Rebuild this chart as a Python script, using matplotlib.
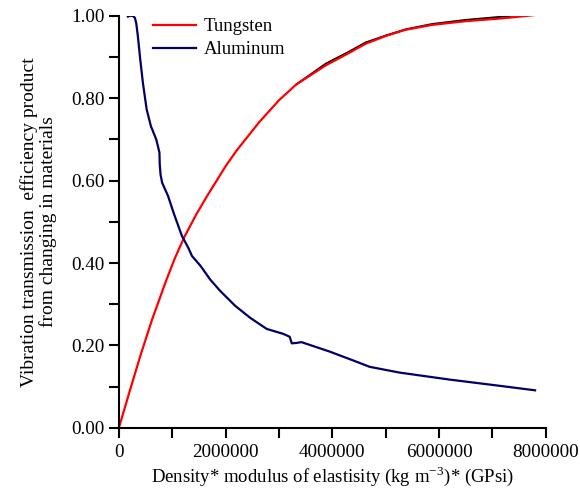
import numpy as np
import matplotlib.pyplot as plt

plt.rcParams['font.family'] = ['Liberation Serif', 'DejaVu Serif']
plt.rcParams['mathtext.fontset'] = 'stix'

# tungsten curve (red)
tungsten_x = [0, 0.2e6, 0.4e6, 0.62e6, 0.87e6, 1.05e6, 1.23e6, 1.45e6, 1.65e6, 2.0e6, 2.2e6,
              2.63e6, 3.0e6, 3.32e6, 3.88e6, 4.3e6, 4.62e6, 5.0e6, 5.37e6, 5.87e6, 6.5e6, 7.2e6, 7.8e6]
tungsten_y = [0.0, 0.088, 0.174, 0.262, 0.352, 0.412, 0.464, 0.518, 0.562, 0.635, 0.672,
              0.742, 0.795, 0.833, 0.880, 0.909, 0.932, 0.951, 0.966, 0.978, 0.987, 0.994, 1.002]

# black trace sitting just under the red one
black_x = [3.32e6, 3.88e6, 4.3e6, 4.62e6, 5.0e6, 5.37e6, 5.87e6, 6.5e6, 7.2e6, 7.7e6]
black_y = [0.833, 0.884, 0.912, 0.935, 0.952, 0.967, 0.98, 0.99, 0.998, 1.005]

# aluminum curve (navy)
aluminum_x = [0.17e6, 0.2e6, 0.26e6, 0.3e6, 0.325e6, 0.356e6, 0.4e6, 0.45e6, 0.52e6, 0.6e6, 0.7e6,
              0.76e6, 0.765e6, 0.78e6, 0.81e6, 0.92e6, 1.03e6, 1.18e6, 1.3e6, 1.37e6, 1.53e6, 1.71e6,
              1.9e6, 2.18e6, 2.46e6, 2.77e6, 3.08e6, 3.2e6, 3.24e6, 3.33e6, 3.42e6, 3.95e6,
              4.4e6, 4.7e6, 5.26e6, 6.2e6, 7.13e6, 7.8e6]
aluminum_y = [0.998, 1.0, 1.0, 0.995, 0.982, 0.95, 0.894, 0.837, 0.773, 0.732, 0.7,
              0.668, 0.64, 0.615, 0.595, 0.563, 0.52, 0.466, 0.437, 0.417, 0.393, 0.36,
              0.332, 0.296, 0.267, 0.24, 0.228, 0.221, 0.205, 0.206, 0.208, 0.185,
              0.163, 0.148, 0.134, 0.117, 0.102, 0.091]

fig = plt.figure(figsize=(5.8, 4.94), dpi=100)
ax = fig.add_axes([0.205, 0.134, 0.736, 0.834])

ax.plot(black_x, black_y, color='black', lw=1.4, zorder=1)
ax.plot(tungsten_x, tungsten_y, color='#ff0000', lw=1.6, label='Tungsten', zorder=2)
ax.plot(aluminum_x, aluminum_y, color='#000066', lw=1.6, label='Aluminum', zorder=3)

ax.set_xlim(0, 8e6)
ax.set_ylim(0, 1.0)
ax.set_xticks(np.arange(0, 8.01e6, 1e6))
ax.set_xticklabels(['0', '', '2000000', '', '4000000', '', '6000000', '', '8000000'])
ax.set_yticks(np.arange(0, 1.01, 0.1))
ax.set_yticklabels(['%.2f' % v if i % 2 == 0 else '' for i, v in enumerate(np.arange(0, 1.01, 0.1))])

for s in ['top', 'right']:
    ax.spines[s].set_visible(False)
for s in ['left', 'bottom']:
    ax.spines[s].set_linewidth(1.5)
ax.tick_params(direction='out', length=7, width=1.5, labelsize=13.8)
ax.tick_params(axis='x', pad=5)

ax.set_xlabel('Density* modulus of elastisity (kg m$^{\\mathregular{-3}}$)* (GPsi)', fontsize=13.5, labelpad=2)
ax.set_ylabel('Vibration transmission  efficiency product\nfrom changing in materials', fontsize=14,
              labelpad=10, linespacing=1.1)

ax.legend(loc='upper left', bbox_to_anchor=(0.04, 1.035), frameon=False, fontsize=13.5,
          handlelength=2.3, handletextpad=0.4, labelspacing=0.3)

fig.savefig('out.png', dpi=100)
